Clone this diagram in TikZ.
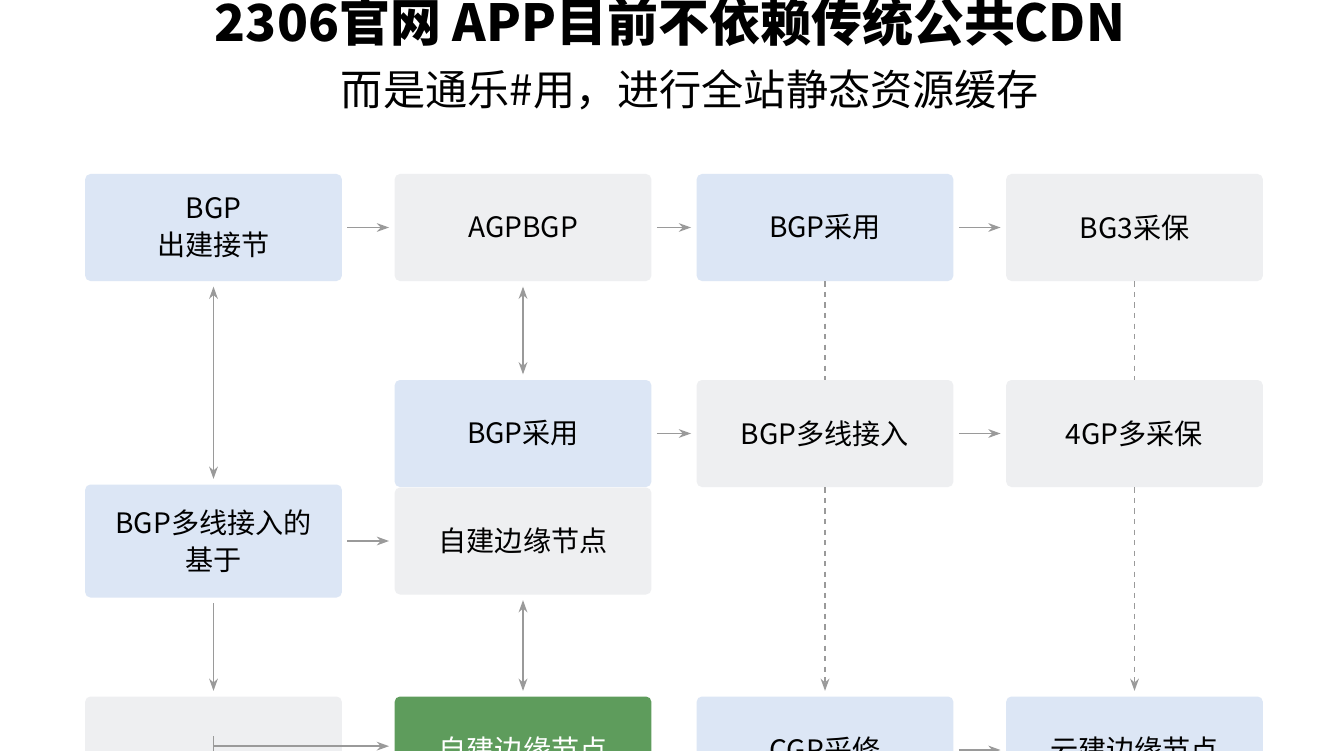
\documentclass[tikz,border=0pt]{standalone}
\usepackage{fontspec}
\setmainfont{Noto Sans CJK SC}
\usetikzlibrary{positioning, arrows.meta, calc}
\usepackage{xcolor}
\definecolor{boxblue}{HTML}{DCE6F5}
\definecolor{boxgray}{HTML}{EEEFF1}
\definecolor{boxgreen}{HTML}{5E9C5C}
\definecolor{linegray}{HTML}{9A9A9A}

\begin{document}
\begin{tikzpicture}[
    box/.style={rectangle, fill=boxgray, text width=4.9cm, align=center, minimum width=5.1cm, minimum height=2.14cm, rounded corners=3pt, font=\fontsize{16}{21}\selectfont},
    bluebox/.style={box, fill=boxblue},
    greenbox/.style={box, fill=boxgreen, text=white},
    arrow/.style={-{Stealth[length=7pt,width=5pt]}, linegray, thick, shorten >=3pt, shorten <=3pt},
    twoway/.style={{Stealth[length=7pt,width=5pt]}-{Stealth[length=7pt,width=5pt]}, linegray, thick, shorten >=3pt, shorten <=3pt},
    dashline/.style={linegray, thick, dashed}
]
    \useasboundingbox[fill=white] (0,0) rectangle (26.88,15);
    \clip (0,0) rectangle (26.88,15);

    % title
    \node[font=\fontsize{29}{34}\selectfont\bfseries] (title) at (13.4,14.55) {2306官网 APP目前不依赖传统公共CDN};
    \node[font=\fontsize{24}{28}\selectfont] (subtitle) at (13.8,13.2) {而是通乐\#用，进行全站静态资源缓存};

    % first row
    \node[bluebox] (entry) at (4.27,10.45) {BGP\\出建接节};
    \node[box] (agp) at (10.46,10.45) {AGPBGP};
    \node[bluebox] (adopt) at (16.5,10.45) {BGP采用};
    \node[box] (bgsafe) at (22.69,10.45) {BG3采保};

    % second row
    \node[bluebox] (adopt2) at (10.46,6.33) {BGP采用};
    \node[box] (multi) at (16.5,6.33) {BGP多线接入};
    \node[box] (gpsafe) at (22.69,6.33) {4GP多采保};

    % third row
    \node[bluebox, minimum height=2.26cm] (base) at (4.27,4.18) {BGP多线接入的\\基于};
    \node[box] (edge) at (10.46,4.18) {自建边缘节点};

    % fourth row (cut off)
    \node[box] (blank) at (4.27,0) {};
    \node[greenbox] (edge2) at (10.46,0) {自建边缘节点};
    \node[bluebox] (cgp) at (16.5,0) {CGP采修};
    \node[bluebox] (cloud) at (22.69,0) {云建边缘节点};

    \draw[arrow] (entry) -- (agp);
    \draw[arrow] (agp) -- (adopt);
    \draw[arrow] (adopt) -- (bgsafe);
    \draw[arrow] (adopt2) -- (multi);
    \draw[arrow] (multi) -- (gpsafe);
    \draw[arrow] (base) -- (edge);

    \draw[twoway] (entry) -- (base);
    \draw[twoway] (agp) -- (adopt2);
    \draw[twoway] (edge) -- (edge2);
    \draw[arrow] (base) -- (blank);

    \draw[dashline] (adopt) -- (multi);
    \draw[dashline, -{Stealth[length=7pt,width=5pt]}, shorten >=3pt] (multi) -- (cgp);
    \draw[dashline] (bgsafe) -- (gpsafe);
    \draw[dashline, -{Stealth[length=7pt,width=5pt]}, shorten >=3pt] (gpsafe) -- (cloud);

    \coordinate (inner) at ($(blank.north)+(0,-0.8)$);
    \coordinate (turn) at ($(inner)+(0,-0.2)$);
    \draw[linegray, thick] (inner) -- ++(0,-1);
    \draw[arrow, shorten <=0pt] (turn) -- (turn -| edge2.west);
    \draw[arrow] (cgp) -- (cloud);
\end{tikzpicture}
\end{document}
